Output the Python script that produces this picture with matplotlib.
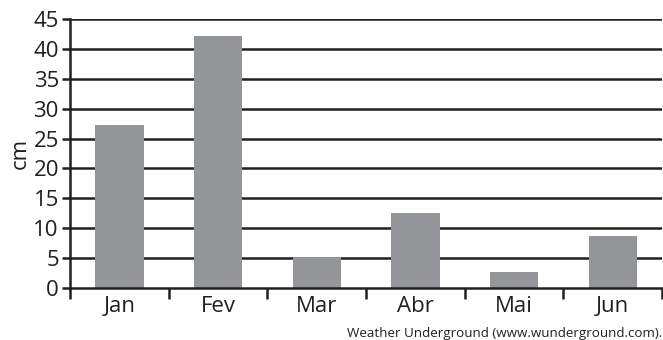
import numpy as np
import matplotlib.pyplot as plt

# monthly values (cm)
months = ['Jan', 'Fev', 'Mar', 'Abr', 'Mai', 'Jun']
values = [27.3, 42.2, 5.2, 12.6, 2.7, 8.7]
yticks = [0, 5, 10, 15, 20, 25, 30, 35, 40, 45]
source = 'Weather Underground (www.wunderground.com).'

plt.rcParams['font.family'] = ['Open Sans', 'DejaVu Sans']
txt = '#231f20'

fig = plt.figure(figsize=(6.63, 3.40), dpi=100)
ax = fig.add_axes([0.1056, 0.1538, 0.893, 0.7894])

x = np.arange(len(months))
ax.bar(x, values, width=0.49, color='#939598', zorder=3)

ax.set_xlim(-0.5, len(months) - 0.5)
ax.set_ylim(0, 45)
ax.set_yticks(yticks)
for y in yticks[1:]:
    ax.axhline(y, color='#231f20', lw=1.8, zorder=1)

# boundary ticks (major) and centred labels (minor)
ax.set_xticks(np.arange(len(months) + 1) - 0.5)
ax.set_xticklabels([])
ax.set_xticks(x, minor=True)
ax.set_xticklabels(months, minor=True)
ax.tick_params(axis='x', which='major', length=8, width=1.8, color=txt)
ax.tick_params(axis='x', which='minor', length=0, pad=6, labelsize=16, labelcolor=txt)
ax.tick_params(axis='y', length=6, width=1.8, color=txt, labelsize=16, labelcolor=txt, pad=2)

for s in ['top', 'right']:
    ax.spines[s].set_visible(False)
for s in ['left', 'bottom']:
    ax.spines[s].set_linewidth(1.8)
    ax.spines[s].set_color(txt)
    ax.spines[s].set_zorder(4)

ax.set_ylabel('cm', fontsize=16, color=txt, labelpad=2)

fig.text(0.999, 0.0, source, ha='right', va='bottom', fontsize=9.6, color=txt)

fig.savefig('out.png', dpi=100)
